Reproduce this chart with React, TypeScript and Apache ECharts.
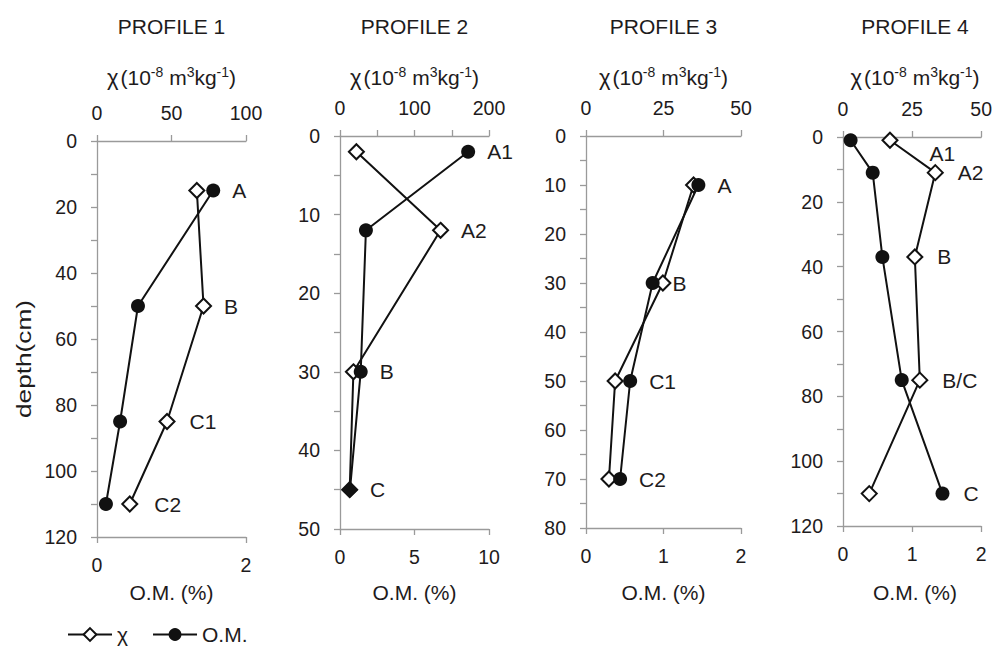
import { useEffect, useRef } from 'react';
import * as echarts from 'echarts';

// ---------- data ----------
const profileTitles = ['PROFILE 1', 'PROFILE 2', 'PROFILE 3', 'PROFILE 4'];

const p1Horizons = ['A', 'B', 'C1', 'C2'];
const p1Depth = [15, 50, 85, 110];
const p1Chi = [67, 71.5, 47, 22];
const p1OM = [1.56, 0.55, 0.31, 0.12];

const p2Horizons = ['A1', 'A2', 'B', 'C'];
const p2Depth = [2, 12, 30, 45];
const p2Chi = [22, 135, 18, 13];
const p2OM = [8.6, 1.74, 1.39, 0.67];

const p3Horizons = ['A', 'B', 'C1', 'C2'];
const p3Depth = [10, 30, 50, 70];
const p3Chi = [34.7, 24.8, 9.4, 7.4];
const p3OM = [1.45, 0.86, 0.57, 0.44];

const p4Horizons = ['A1', 'A2', 'B', 'B/C', 'C'];
const p4Depth = [1, 11, 37, 75, 110];
const p4Chi = [17, 33.4, 26, 27.8, 9.5];
const p4OM = [0.11, 0.43, 0.57, 0.85, 1.44];

// axis scales
const chiAxisMax = [100, 200, 50, 50];
const chiTickStep = [50, 50, 25, 25];
const chiLabelStep = [50, 100, 25, 25];
const omAxisMax = [2, 10, 2, 2];
const omTickStep = [2, 5, 1, 1];
const depthAxisMax = [120, 50, 80, 120];
const depthTickStep = [10, 5, 5, 10];
const depthLabelStep = [20, 10, 10, 20];

const chiName = 'χ';
const omName = 'O.M.';
const depthTitle = 'depth(cm)';
const omTitle = 'O.M. (%)';

// ---------- layout / style ----------
const FONT = "'Liberation Sans', Arial, Helvetica, sans-serif";
const INK = '#1e1b1c';
const AXIS = '#9a9a9a';

const boxes = [
  { left: 97, top: 141, width: 149, height: 396 },
  { left: 340, top: 136, width: 149, height: 393 },
  { left: 586, top: 136, width: 155, height: 392 },
  { left: 843, top: 137, width: 144, height: 389 },
];

// label placement tweaks per panel (index -> adjustments)
const labelTweaks: Record<number, { distance?: number; offset?: number[] }>[] = [
  { 2: { distance: 14 }, 3: { distance: 16 } },
  {},
  { 1: { distance: 1 } },
  { 0: { distance: 31, offset: [0, 13] }, 1: { distance: 14 }, 2: { distance: 14 }, 3: { distance: 14 }, 4: { distance: 14 } },
];

const panels = [
  { horizons: p1Horizons, depth: p1Depth, chi: p1Chi, om: p1OM },
  { horizons: p2Horizons, depth: p2Depth, chi: p2Chi, om: p2OM },
  { horizons: p3Horizons, depth: p3Depth, chi: p3Chi, om: p3OM },
  { horizons: p4Horizons, depth: p4Depth, chi: p4Chi, om: p4OM },
];

function buildOption() {
  const grid: any[] = [];
  const xAxis: any[] = [];
  const yAxis: any[] = [];
  const series: any[] = [];
  const graphic: any[] = [];

  const axisCommon = {
    axisLine: { show: true, onZero: false, lineStyle: { color: AXIS, width: 1.3 } },
    axisTick: { show: true, inside: false, length: 6, lineStyle: { color: AXIS, width: 1.3 } },
    splitLine: { show: false },
  };
  const tickFont = 19.5;

  panels.forEach((p, i) => {
    const b = boxes[i];
    grid.push({ left: b.left, top: b.top, width: b.width, height: b.height, containLabel: false });

    xAxis.push({
      type: 'value', gridIndex: i, position: 'top', min: 0, max: chiAxisMax[i], interval: chiTickStep[i],
      ...axisCommon,
      axisLabel: {
        margin: 18, fontSize: tickFont, color: INK, fontFamily: FONT,
        formatter: (v: number) => (v % chiLabelStep[i] === 0 ? String(v) : ''),
      },
    });
    xAxis.push({
      type: 'value', gridIndex: i, position: 'bottom', min: 0, max: omAxisMax[i], interval: omTickStep[i],
      ...axisCommon,
      axisLabel: { margin: 18, fontSize: tickFont, color: INK, fontFamily: FONT },
    });
    yAxis.push({
      type: 'value', gridIndex: i, inverse: true, min: 0, max: depthAxisMax[i], interval: depthTickStep[i],
      ...axisCommon,
      axisLabel: {
        margin: 20, fontSize: tickFont, color: INK, fontFamily: FONT,
        formatter: (v: number) => (v % depthLabelStep[i] === 0 ? String(v) : ''),
      },
    });

    const labelFor = (k: number) => {
      const t = labelTweaks[i][k] || {};
      return {
        show: true,
        position: 'right',
        distance: t.distance ?? 12,
        offset: t.offset ?? [0, 0],
        formatter: p.horizons[k],
        fontSize: 21,
        color: INK,
        fontFamily: FONT,
      };
    };

    const chiRight = p.depth.map((_, k) => p.chi[k] / chiAxisMax[i] > p.om[k] / omAxisMax[i]);
    const coincide = p.depth.map((_, k) => Math.abs(p.chi[k] / chiAxisMax[i] - p.om[k] / omAxisMax[i]) < 0.01);

    series.push({
      type: 'line', name: chiName, xAxisIndex: 2 * i, yAxisIndex: i,
      symbol: 'diamond', symbolSize: 15,
      itemStyle: { color: '#ffffff', borderColor: '#111', borderWidth: 2 },
      lineStyle: { color: '#111', width: 2 },
      z: 3,
      data: p.depth.map((d, k) => ({
        value: [p.chi[k], d],
        label: chiRight[k] && !coincide[k] ? labelFor(k) : { show: false },
      })),
    });
    series.push({
      type: 'line', name: omName, xAxisIndex: 2 * i + 1, yAxisIndex: i,
      symbol: 'circle', symbolSize: 14,
      itemStyle: { color: '#111', borderColor: '#111', borderWidth: 0 },
      lineStyle: { color: '#111', width: 2 },
      z: 4,
      data: p.depth.map((d, k) => ({
        value: [p.om[k], d],
        symbol: coincide[k] ? 'diamond' : 'circle',
        symbolSize: coincide[k] ? 16 : 14,
        label: !chiRight[k] || coincide[k] ? labelFor(k) : { show: false },
      })),
    });

    const cx = b.left + b.width / 2;
    graphic.push({
      type: 'text', x: cx, y: 26,
      style: { text: profileTitles[i], fontSize: 21, fontFamily: FONT, fill: INK, align: 'center', verticalAlign: 'middle', textAlign: 'center', textVerticalAlign: 'middle' },
    });
    graphic.push({
      type: 'text', x: cx, y: 77,
      style: {
        text: '{a|χ}{b|(10}{s|-8}{b| m}{s|3}{b|kg}{s|-1}{b|)}',
        fill: INK, align: 'center', verticalAlign: 'middle', textAlign: 'center', textVerticalAlign: 'middle',
        rich: {
          a: { fontSize: 22, fontFamily: FONT, fill: INK, lineHeight: 25, padding: [0, 2, 0, 0] },
          b: { fontSize: 21, fontFamily: FONT, fill: INK, lineHeight: 25 },
          s: { fontSize: 14, fontFamily: FONT, fill: INK, lineHeight: 15, verticalAlign: 'top' },
        },
      },
    });
    graphic.push({
      type: 'text', x: cx, y: 592,
      style: { text: omTitle, fontSize: 21, fontFamily: FONT, fill: INK, align: 'center', verticalAlign: 'middle', textAlign: 'center', textVerticalAlign: 'middle' },
    });
  });

  graphic.push({
    type: 'text', x: 23, y: 359, rotation: Math.PI / 2, scaleX: 1.25,
    style: { text: depthTitle, fontSize: 21, fontFamily: FONT, fill: INK, align: 'center', verticalAlign: 'middle', textAlign: 'center', textVerticalAlign: 'middle' },
  });

  return {
    animation: false,
    backgroundColor: '#ffffff',
    textStyle: { fontFamily: FONT, color: INK },
    grid,
    xAxis,
    yAxis,
    series,
    graphic,
    legend: {
      data: [chiName, omName],
      left: 62, top: 619,
      itemWidth: 44, itemHeight: 16, itemGap: 24,
      textStyle: { fontSize: 21, color: INK, fontFamily: FONT },
    },
  };
}

export default function App() {
  const ref = useRef<HTMLDivElement>(null);
  useEffect(() => {
    if (!ref.current) return;
    const chart = echarts.init(ref.current, null, { renderer: 'svg' });
    chart.setOption(buildOption() as any);
    return () => chart.dispose();
  }, []);
  return (
    <div
      ref={ref}
      style={{ position: 'fixed', left: 0, top: 0, width: 995, height: 659, background: '#ffffff' }}
    />
  );
}
